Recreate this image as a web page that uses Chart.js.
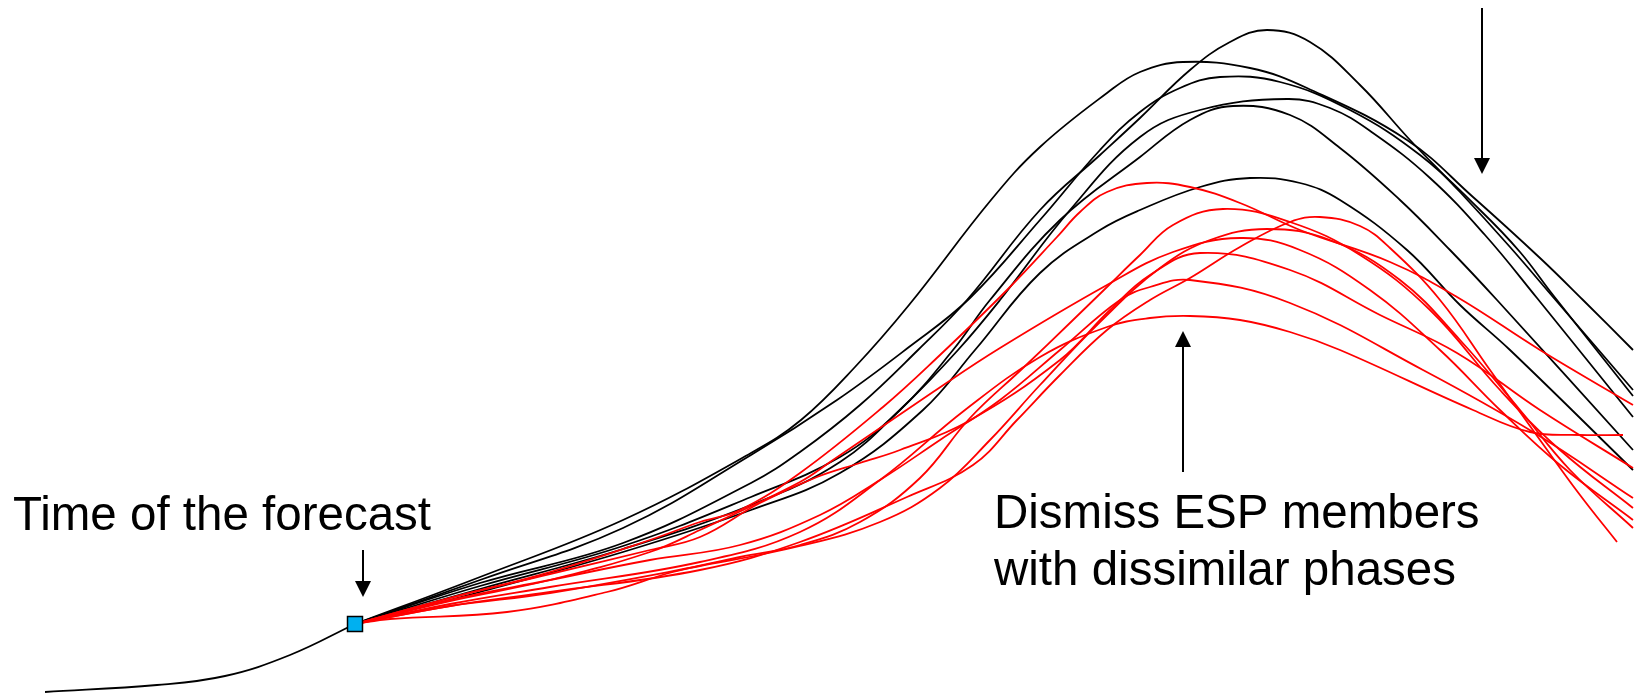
<!DOCTYPE html>
<html>
<head>
<meta charset="utf-8">
<script src="https://cdn.jsdelivr.net/npm/chart.js@4.4.1/dist/chart.umd.min.js"></script>
<style>
  html, body { margin: 0; padding: 0; background: #fff; }
  #wrap { width: 1638px; height: 693px; }
</style>
</head>
<body>
<div id="wrap"><canvas id="espChart"></canvas></div>
<script>
// Axis units: x = time, y = depth below top of the frame (axis is reversed)

// observed hydrograph up to the time of the forecast
const observed = [[45, 692], [157, 685], [225, 676], [290, 655], [355, 624]];
const forecastPoint = [[355, 624]];

// ESP members kept (similar phase) - black
const kept1 = [[355, 624], [480, 577], [623, 520], [751, 453], [801, 420], [855, 367], [909, 305], [991, 200], [1040, 147], [1107, 93], [1140, 72], [1183, 62], [1250, 68], [1307, 88], [1407, 140], [1473, 197], [1540, 258], [1583, 300], [1633, 350]];
const kept2 = [[355, 624], [480, 580], [623, 528], [751, 455], [837, 400], [909, 347], [970, 298], [1040, 220], [1100, 150], [1140, 112], [1180, 88], [1220, 77], [1280, 82], [1350, 110], [1420, 155], [1480, 210], [1520, 252], [1553, 295], [1633, 396]];
const kept3 = [[355, 624], [480, 583], [623, 543], [751, 483], [800, 452], [860, 405], [918, 350], [967, 300], [1040, 210], [1100, 155], [1140, 118], [1190, 70], [1230, 42], [1267, 30], [1310, 42], [1360, 85], [1410, 140], [1460, 192], [1510, 247], [1553, 297], [1633, 390]];
const kept4 = [[355, 624], [480, 586], [623, 546], [751, 497], [840, 457], [900, 410], [953, 350], [990, 300], [1060, 220], [1140, 157], [1190, 120], [1233, 106], [1290, 115], [1340, 148], [1400, 200], [1450, 250], [1497, 300], [1633, 450]];
const kept5 = [[355, 624], [480, 589], [623, 549], [751, 505], [840, 462], [905, 405], [958, 350], [1000, 300], [1070, 210], [1140, 137], [1200, 110], [1287, 99], [1330, 108], [1373, 133], [1430, 178], [1485, 235], [1537, 298], [1633, 417]];
const kept6 = [[355, 624], [480, 592], [623, 552], [751, 510], [840, 473], [923, 410], [975, 350], [1040, 273], [1100, 230], [1140, 210], [1200, 187], [1250, 178], [1300, 183], [1340, 200], [1407, 250], [1460, 305], [1510, 350], [1633, 470]];

// ESP members dismissed (dissimilar phase) - red
const dismissed1 = [[355, 624], [450, 598], [550, 572], [650, 540], [700, 522], [740, 510], [800, 473], [883, 407], [940, 355], [1007, 290], [1057, 237], [1080, 212], [1107, 192], [1147, 183], [1190, 187], [1240, 203], [1300, 230], [1390, 262], [1457, 297], [1540, 350], [1633, 405]];
const dismissed2 = [[355, 624], [450, 601], [550, 580], [650, 552], [700, 530], [800, 482], [833, 460], [933, 392], [1000, 348], [1107, 285], [1173, 252], [1240, 238], [1300, 250], [1370, 290], [1440, 350], [1500, 410], [1560, 465], [1633, 520]];
const dismissed3 = [[355, 624], [450, 606], [550, 592], [700, 570], [800, 542], [907, 497], [973, 465], [1017, 420], [1060, 375], [1107, 330], [1150, 300], [1190, 278], [1240, 247], [1290, 222], [1320, 217], [1360, 226], [1390, 248], [1440, 300], [1490, 370], [1540, 440], [1580, 495], [1617, 542]];
const dismissed4 = [[355, 624], [450, 604], [550, 587], [700, 562], [800, 532], [880, 480], [965, 410], [1040, 357], [1107, 327], [1150, 318], [1190, 316], [1240, 320], [1290, 332], [1340, 350], [1473, 410], [1530, 432], [1580, 435], [1623, 435]];
const dismissed5 = [[355, 624], [390, 619], [507, 612], [607, 592], [673, 572], [740, 557], [800, 545], [860, 522], [920, 478], [970, 418], [1023, 368], [1073, 320], [1107, 287], [1140, 255], [1173, 225], [1223, 209], [1290, 222], [1360, 255], [1430, 310], [1500, 390], [1560, 450], [1633, 508]];
const dismissed6 = [[355, 624], [450, 606], [550, 593], [700, 566], [800, 546], [880, 522], [940, 488], [990, 440], [1040, 385], [1100, 322], [1160, 268], [1210, 240], [1267, 229], [1330, 240], [1400, 280], [1460, 340], [1520, 410], [1570, 470], [1633, 528]];
const dismissed7 = [[355, 624], [450, 598], [550, 574], [650, 550], [700, 537], [760, 503], [817, 477], [860, 463], [900, 450], [967, 422], [1060, 360], [1110, 310], [1150, 275], [1200, 253], [1290, 270], [1380, 315], [1457, 353], [1540, 410], [1633, 468]];
const dismissed8 = [[355, 624], [450, 600], [550, 580], [650, 560], [740, 545], [820, 515], [880, 480], [940, 440], [1000, 400], [1060, 350], [1120, 300], [1150, 287], [1190, 280], [1290, 303], [1423, 370], [1533, 432], [1633, 498]];

const keptMembers = [kept1, kept2, kept3, kept4, kept5, kept6];
const dismissedMembers = [dismissed1, dismissed2, dismissed3, dismissed4, dismissed5, dismissed6, dismissed7, dismissed8];

// Labels and arrows, placed in axis units
const labels = [
  { text: "Time of the forecast", x: 13, y: 530 },
  { text: "Dismiss ESP members", x: 994, y: 528 },
  { text: "with dissimilar phases", x: 994, y: 585 }
];
const arrows = [
  { x: 363, from: 550, to: 597 },
  { x: 1183, from: 472, to: 331 },
  { x: 1482, from: 8, to: 174 }
];

function toPoints(arr) {
  return arr.map(p => ({ x: p[0], y: p[1] }));
}

function memberLine(arr, color) {
  return {
    data: toPoints(arr),
    borderColor: color,
    borderWidth: 1.8,
    pointRadius: 0,
    fill: false,
    tension: 0.4,
    clip: false
  };
}

// Draws the text notes and the arrows on top of the lines
const notesPlugin = {
  id: "notes",
  afterDatasetsDraw(chart) {
    const ctx = chart.ctx;
    const xs = chart.scales.x, ys = chart.scales.y;
    ctx.save();
    ctx.fillStyle = "#000";
    ctx.font = '47.5px "Liberation Sans", Arial, sans-serif';
    ctx.textBaseline = "alphabetic";
    labels.forEach(l => {
      ctx.fillText(l.text, xs.getPixelForValue(l.x), ys.getPixelForValue(l.y));
    });

    ctx.strokeStyle = "#000";
    ctx.lineWidth = 2;
    arrows.forEach(a => {
      const x = xs.getPixelForValue(a.x);
      const y0 = ys.getPixelForValue(a.from);
      const y1 = ys.getPixelForValue(a.to);
      const dir = y1 > y0 ? 1 : -1;
      const head = 16;
      ctx.beginPath();
      ctx.moveTo(x, y0);
      ctx.lineTo(x, y1 - dir * head);
      ctx.stroke();
      ctx.beginPath();
      ctx.moveTo(x, y1);
      ctx.lineTo(x - 8, y1 - dir * head);
      ctx.lineTo(x + 8, y1 - dir * head);
      ctx.closePath();
      ctx.fill();
    });
    ctx.restore();
  }
};

const datasets = [];
// forecast time marker (drawn on top)
datasets.push({
  data: toPoints(forecastPoint),
  showLine: false,
  pointStyle: "rect",
  pointRadius: 10.6,
  backgroundColor: "#00b0f0",
  borderColor: "#000",
  borderWidth: 1.5,
  clip: false
});
dismissedMembers.forEach(m => datasets.push(memberLine(m, "#ff0000")));
keptMembers.forEach(m => datasets.push(memberLine(m, "#000000")));
datasets.push(memberLine(observed, "#000000"));

new Chart(document.getElementById("espChart"), {
  type: "line",
  data: { datasets: datasets },
  options: {
    responsive: true,
    maintainAspectRatio: false,
    animation: false,
    devicePixelRatio: 1,
    layout: { padding: 0, autoPadding: false },
    scales: {
      x: { type: "linear", min: 0, max: 1638, display: false },
      y: { type: "linear", min: 0, max: 693, reverse: true, display: false }
    },
    plugins: {
      legend: { display: false },
      tooltip: { enabled: false }
    },
    events: []
  },
  plugins: [notesPlugin]
});
</script>
</body>
</html>
